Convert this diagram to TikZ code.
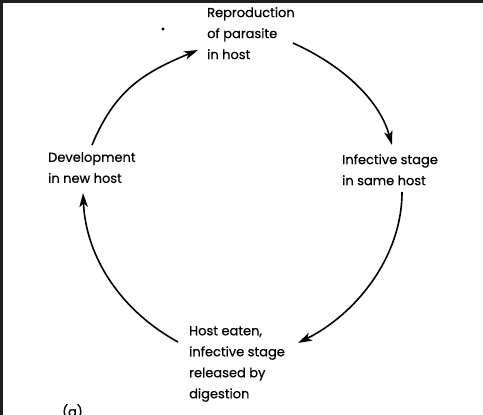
\documentclass[tikz,border=0pt]{standalone}
\usepackage{fontspec}
\setmainfont{Poppins}
\newfontfamily\lblfont{Poppins}[BoldFont=Poppins, BoldFeatures={FakeBold=0.5}]
\usetikzlibrary{arrows.meta}
\begin{document}
\begin{tikzpicture}[x=1pt,y=-1pt,
  lbl/.style={align=left, anchor=north west, inner sep=0pt,
    font=\lblfont\bfseries\fontsize{13}{21}\selectfont},
  arr/.style={line width=1.6pt, -{Stealth[length=14pt,width=8.5pt,inset=3.5pt]}},
  frame/.style={fill=black!88, draw=none}]
\useasboundingbox (0,0) rectangle (483,415);
\fill[white] (0,0) rectangle (483,415);
\fill[frame] (0,0) rectangle (483,3);
\fill[frame] (0,0) rectangle (3,415);

\node[lbl] (rep) at (207,7) {Reproduction\\of parasite\\in host};
\node[lbl] (dev) at (48,152) {Development\\in new host};
\node[lbl] (inf) at (342,154) {Infective stage\\in same host};
\node[lbl] (eat) at (189,326) {Host eaten,\\infective stage\\released by\\digestion};
\node[lbl] (lab) at (62,404) {(a)};
\fill (163,29) circle (1.7);

\coordinate (a1s) at (92,145);  \coordinate (a1e) at (198,50);
\coordinate (a2s) at (293,43);  \coordinate (a2e) at (392,145);
\coordinate (a3s) at (402,192); \coordinate (a3e) at (298,343);
\coordinate (a4s) at (178,342); \coordinate (a4e) at (83,193);

\draw[arr] (a1s) .. controls (115,90) and (143,73) .. (a1e);
\draw[arr] (a2s) .. controls (338.5,63.5) and (378.5,97) .. (a2e);
\draw[arr] (a3s) .. controls (402,257) and (356,314) .. (a3e);
\draw[arr] (a4s) .. controls (121.5,311) and (86,258) .. (a4e);
\end{tikzpicture}
\end{document}
